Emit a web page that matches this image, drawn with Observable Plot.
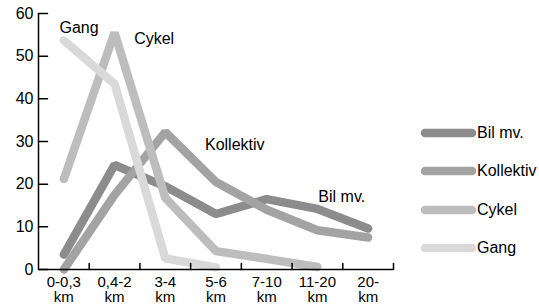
<!DOCTYPE html>
<html><head><meta charset="utf-8">
<script src="https://cdn.jsdelivr.net/npm/d3@7"></script>
<script src="https://cdn.jsdelivr.net/npm/@observablehq/plot@0.6"></script>
<style>
body{margin:0;background:#fff;font-family:Arial,"Liberation Sans",Helvetica,sans-serif;}
#wrap{position:relative;width:539px;height:304px;}
#legend{position:absolute;left:412px;top:114px;font-size:16px;color:#000;}
.item{display:flex;align-items:center;height:38.3px;}
.item svg{margin-right:1px;}
</style>
</head><body>
<div id="wrap"><div id="chart"></div><div id="legend"></div></div>
<script>
const categories = ["0-0,3\nkm", "0,4-2\nkm", "3-4\nkm", "5-6\nkm", "7-10\nkm", "11-20\nkm", "20-\nkm"];
const seriesNames = ["Bil mv.", "Kollektiv", "Cykel", "Gang"];
const bil = [3.5, 24.5, 19.5, 13, 16.5, 14.2, 9.6];
const kollektiv = [0, 17.5, 32.2, 20.5, 14, 9.2, 7.5];
const cykel = [21.2, 55.5, 16.8, 4.3, 2.5, 0.6];
const gang = [53.7, 43.5, 2.6, 0.5];
const colors = ["#8c8c8c", "#a3a3a3", "#bdbdbd", "#d9d9d9"];
const yTicks = [0, 10, 20, 30, 40, 50, 60];
// annotation anchors (category index, value)
const labelNames = ["Gang", "Cykel", "Kollektiv", "Bil mv."];
const labelX = [0.3, 1.78, 3.37, 5.48];
const labelY = [56.6, 54.1, 29.2, 17.1];

const valuesBySeries = [bil, kollektiv, cykel, gang];
const rows = [];
valuesBySeries.forEach((vals, s) => vals.forEach((v, i) => rows.push({series: seriesNames[s], i, v})));
const labels = labelNames.map((t, k) => ({t, x: labelX[k], y: labelY[k]}));
const bounds = d3.range(categories.length).map(i => i + 0.5);
const catLines = categories.map((c, i) => ({i, a: c.split("\n")[0], b: c.split("\n")[1]}));
const tickShape = {draw(context, l) { context.moveTo(0, 0); context.lineTo(0, -l); }};

const chart = Plot.plot({
  width: 539, height: 304,
  marginLeft: 38, marginRight: 146, marginTop: 13, marginBottom: 35,
  style: {fontFamily: 'Arial,"Liberation Sans",Helvetica,sans-serif', fontSize: "16px", color: "#000", background: "#fff"},
  x: {domain: [-0.5, categories.length - 0.5], axis: null},
  y: {domain: [0, 60], axis: null},
  color: {domain: seriesNames, range: colors},
  marks: [
    Plot.line(rows, {x: "i", y: "v", z: "series", stroke: "series", strokeWidth: 8.5, strokeLinecap: "round", strokeLinejoin: "miter"}),
    Plot.ruleY([0], {stroke: "#000", strokeWidth: 1.5}),
    Plot.ruleX([-0.5], {y1: 0, y2: 60, stroke: "#000", strokeWidth: 1.5}),
    Plot.vector(yTicks, {x: -0.5, y: d => d, length: 9, rotate: 90, anchor: "start", shape: tickShape, stroke: "#000", strokeWidth: 1.5}),
    Plot.text(yTicks, {x: -0.5, y: d => d, text: d => String(d), textAnchor: "end", dx: -5, fill: "#000"}),
    Plot.vector(bounds, {x: d => d, y: 0, length: 6, rotate: 0, anchor: "start", shape: tickShape, stroke: "#000", strokeWidth: 1.5}),
    Plot.text(catLines, {x: "i", y: 0, text: "a", lineAnchor: "middle", dy: 12.5, fontSize: 15, fill: "#000"}),
    Plot.text(catLines, {x: "i", y: 0, text: "b", lineAnchor: "middle", dy: 28, fontSize: 15, fill: "#000"}),
    Plot.text(labels, {x: "x", y: "y", text: "t", fill: "#000"})
  ]
});
document.getElementById("chart").appendChild(chart);

const legend = document.getElementById("legend");
seriesNames.forEach((n, k) => {
  const it = document.createElement("div"); it.className = "item";
  it.innerHTML = `<svg width="64" height="12"><line x1="13" y1="6" x2="60" y2="6" stroke="${colors[k]}" stroke-width="8.5" stroke-linecap="round"/></svg><span>${n}</span>`;
  legend.appendChild(it);
});
</script>
</body></html>
